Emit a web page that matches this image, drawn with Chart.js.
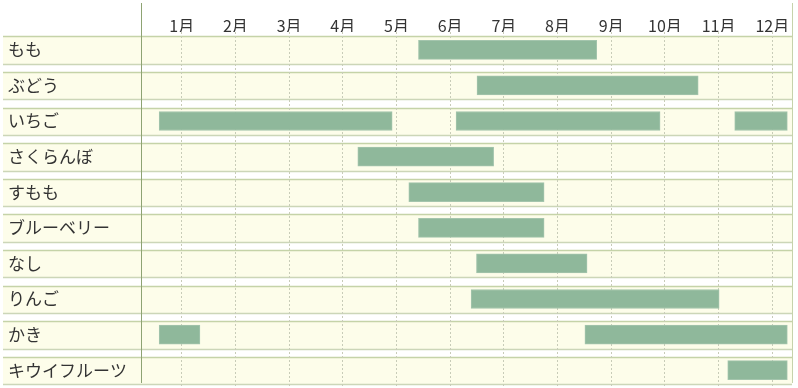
<!DOCTYPE html>
<html>
<head>
<meta charset="utf-8">
<script src="https://cdn.jsdelivr.net/npm/chart.js@4"></script>
<style>
  body { margin: 0; background: #fff; }
  #wrap { width: 798px; height: 388px; }
</style>
</head>
<body>
<div id="wrap"><canvas id="seasonChart" width="798" height="388"></canvas></div>
<script>
// fruit names (rows)
const fruits = ['もも', 'ぶどう', 'いちご', 'さくらんぼ', 'すもも', 'ブルーベリー', 'なし', 'りんご', 'かき', 'キウイフルーツ'];

// month ticks on top
const monthTicks = [1, 2, 3, 4, 5, 6, 7, 8, 9, 10, 11, 12];
const monthLabels = ['1月', '2月', '3月', '4月', '5月', '6月', '7月', '8月', '9月', '10月', '11月', '12月'];

// season ranges [start, end] in month units, up to 3 per fruit
const season1 = [[5.41, 8.73], [6.5, 10.62], [0.58, 4.92], [4.28, 6.81], [5.23, 7.75],
                 [5.41, 7.75], [6.49, 8.55], [6.39, 11.01], [0.58, 1.34], [11.17, 12.28]];
const season2 = [null, null, [6.11, 9.91], null, null, null, null, null, [8.51, 12.28], null];
const season3 = [null, null, [11.3, 12.28], null, null, null, null, null, null, null];

const barColor = '#8fb89b';
const barEdge = '#a4c5ad';

// row bands + frame lines
const rowBands = {
  id: 'rowBands',
  beforeDraw(chart) {
    const ctx = chart.ctx;
    const y = chart.scales.y;
    const area = chart.chartArea;
    ctx.save();
    fruits.forEach((f, i) => {
      const c = y.getPixelForValue(i);
      const top = Math.round(c - 13.5) + 0.5;
      const bot = Math.round(c + 14) + 0.5;
      ctx.fillStyle = '#fdfdea';
      ctx.fillRect(3, top, area.right - 3, bot - top);
      ctx.lineWidth = 1.5;
      ctx.strokeStyle = '#c5d3a8';
      ctx.beginPath();
      ctx.moveTo(3, top); ctx.lineTo(area.right, top);
      ctx.stroke();
      ctx.strokeStyle = '#ccd6b8';
      ctx.beginPath();
      ctx.moveTo(3, bot); ctx.lineTo(area.right, bot);
      ctx.stroke();
    });
    ctx.lineWidth = 1;
    ctx.strokeStyle = '#c6d3ab';
    ctx.beginPath();
    ctx.moveTo(area.right + 0.5, 3); ctx.lineTo(area.right + 0.5, 383);
    ctx.stroke();
    ctx.restore();
  },
  afterDraw(chart) {
    const ctx = chart.ctx;
    const area = chart.chartArea;
    ctx.save();
    ctx.lineWidth = 1;
    ctx.strokeStyle = '#8ea373';
    ctx.beginPath();
    ctx.moveTo(area.left + 0.5, 3); ctx.lineTo(area.left + 0.5, 383);
    ctx.stroke();
    ctx.restore();
  }
};

function makeSet(data) {
  return {
    data: data,
    backgroundColor: barColor,
    borderColor: barEdge,
    borderWidth: 1,
    borderSkipped: false,
    barThickness: 19,
    grouped: false
  };
}

new Chart(document.getElementById('seasonChart'), {
  type: 'bar',
  data: {
    labels: fruits,
    datasets: [makeSet(season1), makeSet(season2), makeSet(season3)]
  },
  options: {
    indexAxis: 'y',
    responsive: false,
    animation: false,
    layout: { padding: { left: 8, right: 6, top: 0, bottom: 0 } },
    plugins: { legend: { display: false }, tooltip: { enabled: false } },
    scales: {
      x: {
        position: 'top',
        min: 0.242,
        max: 12.367,
        z: 1,
        afterFit: s => { s.height = 32; s.paddingLeft = 0; s.paddingRight = 0; },
        afterBuildTicks: s => { s.ticks = monthTicks.map(v => ({ value: v })); },
        ticks: {
          callback: (v, i) => monthLabels[i],
          color: '#333',
          font: { family: '"Noto Sans CJK JP", sans-serif', size: 16 },
          padding: -4,
          maxRotation: 0,
          autoSkip: false
        },
        grid: { color: '#c8ccb8', drawTicks: false },
        border: { display: false, dash: [2, 2] }
      },
      y: {
        afterFit: s => { s.width = 133; s.paddingTop = 0; s.paddingBottom = 0; },
        ticks: {
          crossAlign: 'far',
          color: '#333',
          font: { family: '"Noto Sans CJK JP", sans-serif', size: 17 }
        },
        grid: { display: false },
        border: { display: false }
      }
    }
  },
  plugins: [rowBands]
});
</script>
</body>
</html>
